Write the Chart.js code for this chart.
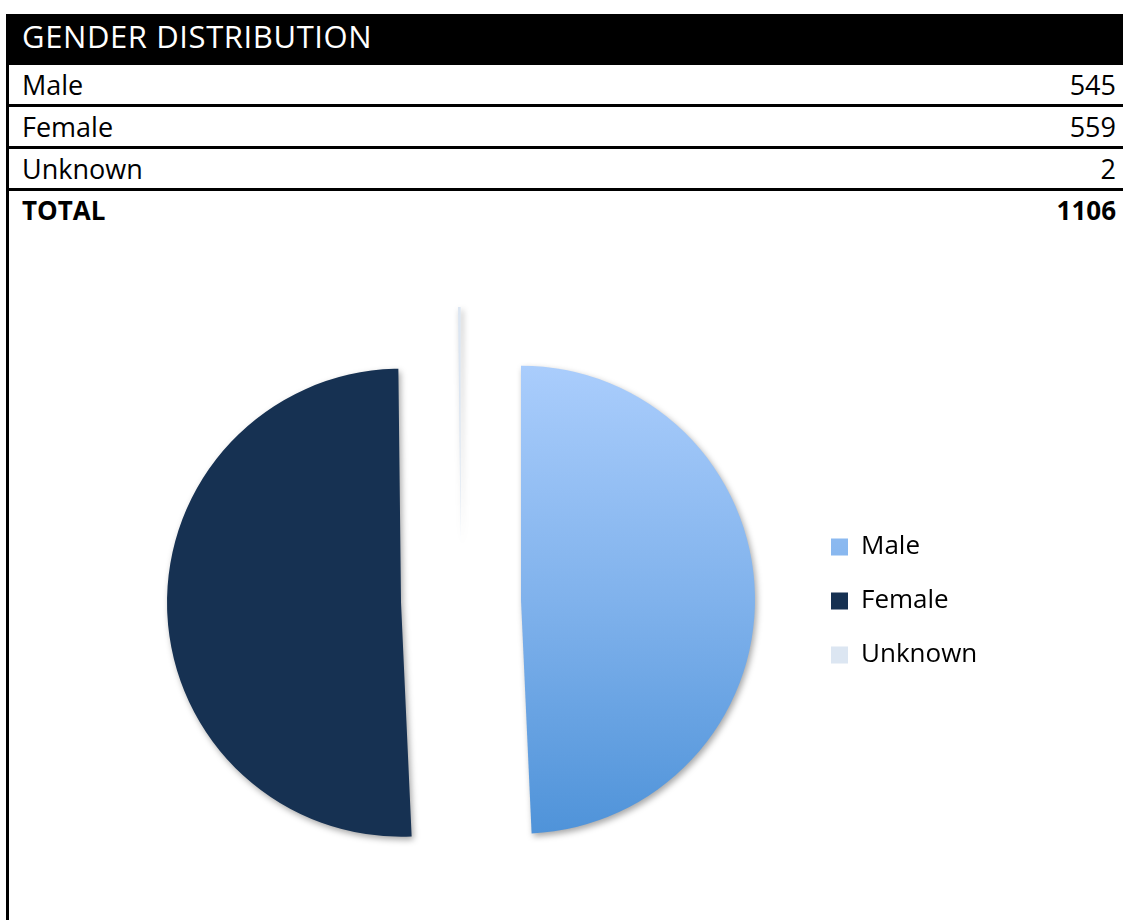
<!DOCTYPE html>
<html>
<head>
<meta charset="utf-8">
<script src="https://cdn.jsdelivr.net/npm/chart.js@4.4.1/dist/chart.umd.min.js"></script>
<style>
  body { margin: 0; width: 1123px; height: 920px; overflow: hidden; background: #fff; position: relative; font-family: "Open Sans", sans-serif; color: #000; }
  .vline { position: absolute; left: 6px; top: 14px; bottom: 0; width: 3px; background: #000; }
  .head { position: absolute; left: 6px; top: 14px; width: 1117px; height: 51px; background: #000; color: #fff;
          font-size: 31px; line-height: 44px; letter-spacing: 0.6px; padding-left: 16px; box-sizing: border-box; }
  .row { position: absolute; left: 6px; width: 1117px; height: 39px; font-size: 27px; line-height: 39px;
         padding: 0 7px 0 16px; box-sizing: border-box; display: flex; justify-content: space-between; }
  .row.total { font-weight: bold; font-size: 26px; }
  .hline { position: absolute; left: 6px; width: 1117px; height: 3px; background: #000; }
  #chart { position: absolute; left: 9px; top: 232px; }
</style>
</head>
<body>
<div class="vline"></div>
<div class="head">GENDER DISTRIBUTION</div>
<div id="table"></div>
<canvas id="chart" width="1114" height="688"></canvas>
<script>
// data
const categories = ['Male', 'Female', 'Unknown'];
const counts = [545, 559, 2];
const totalLabel = 'TOTAL';

const sliceColors = ['#80b2ec', '#163152', '#dce6f2'];
const pieRadius = 234;
const explode = 60;      // distance each slice is pulled out
const legendBoxX = 822;  // canvas x where the legend colour boxes start

// table rows
const table = document.getElementById('table');
const rowTops = [65, 107, 149, 191];
const rows = categories.map((c, i) => [c, counts[i]]);
rows.push([totalLabel, counts.reduce((a, b) => a + b, 0)]);
rows.forEach((r, i) => {
  const div = document.createElement('div');
  div.className = 'row' + (i === rows.length - 1 ? ' total' : '');
  div.style.top = rowTops[i] + 'px';
  div.innerHTML = '<span>' + r[0] + '</span><span>' + r[1] + '</span>';
  table.appendChild(div);
  if (i < rows.length - 1) {
    const line = document.createElement('div');
    line.className = 'hline';
    line.style.top = (rowTops[i] + 39) + 'px';
    table.appendChild(line);
  }
});

// draw the slices pulled apart, with a soft shadow
const explodePlugin = {
  id: 'explode',
  beforeDatasetDraw(chart, args) {
    const ctx = chart.ctx;
    args.meta.data.forEach(arc => {
      const mid = (arc.startAngle + arc.endAngle) / 2;
      ctx.save();
      ctx.shadowColor = 'rgba(0,0,0,0.35)';
      ctx.shadowBlur = 6;
      ctx.shadowOffsetX = 2;
      ctx.shadowOffsetY = 3;
      ctx.translate(Math.cos(mid) * explode, Math.sin(mid) * explode);
      arc.draw(ctx);
      ctx.restore();
    });
    return false;
  }
};

const chart = new Chart(document.getElementById('chart'), {
  type: 'pie',
  data: {
    labels: categories,
    datasets: [{
      data: counts,
      backgroundColor: (c) => {
        const i = c.dataIndex;
        const area = c.chart.chartArea;
        if (i !== 0 || !area) return sliceColors[i];
        const cy = (area.top + area.bottom) / 2;
        const g = c.chart.ctx.createLinearGradient(0, cy - pieRadius, 0, cy + pieRadius);
        g.addColorStop(0, '#aacdfc');
        g.addColorStop(0.5, '#80b2ec');
        g.addColorStop(1, '#4f93d9');
        return g;
      },
      borderWidth: 0,
      clip: false
    }]
  },
  options: {
    responsive: false,
    animation: false,
    radius: pieRadius,
    layout: { padding: { left: 110, right: 150, top: 60, bottom: 10 } },
    plugins: {
      tooltip: { enabled: false },
      legend: {
        position: 'right',
        labels: {
          boxWidth: 17,
          boxHeight: 17,
          padding: 28,
          color: '#000',
          font: { family: 'Open Sans', size: 26 }
        }
      }
    }
  },
  plugins: [explodePlugin]
});

// move the legend so its boxes sit at legendBoxX (pie centre follows the chart area)
const legendPad = chart.options.plugins.legend.labels.padding;
chart.options.layout.padding.right += chart.chartArea.right - (legendBoxX - legendPad);
chart.update();
</script>
</body>
</html>
